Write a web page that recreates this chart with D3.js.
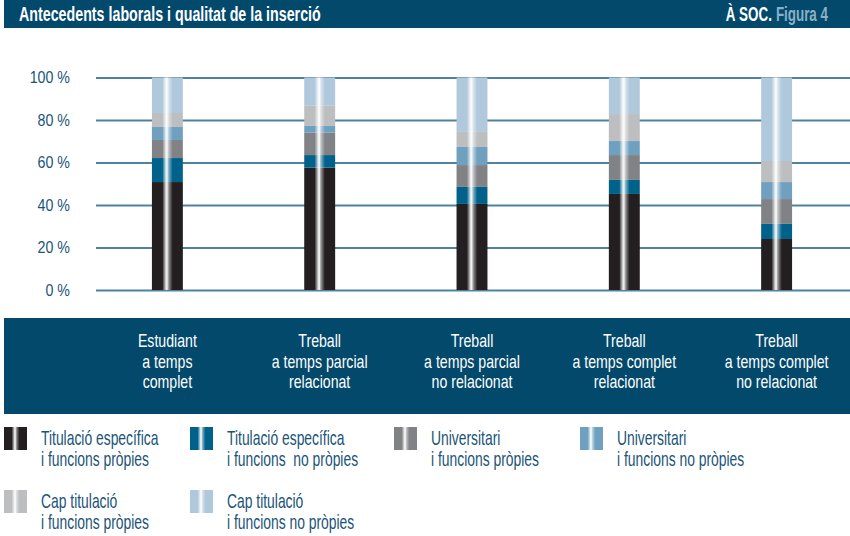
<!DOCTYPE html>
<html>
<head>
<meta charset="utf-8">
<script src="https://cdn.jsdelivr.net/npm/d3@7"></script>
<style>
body { margin: 0; background: #fff; }
svg text { font-family: "Liberation Sans", Arial, sans-serif; white-space: pre; }
</style>
</head>
<body>
<svg width="850" height="536"></svg>
<script>
var categories = [
  ["Estudiant", "a temps", "complet"],
  ["Treball", "a temps parcial", "relacionat"],
  ["Treball", "a temps parcial", "no relacionat"],
  ["Treball", "a temps complet", "relacionat"],
  ["Treball", "a temps complet", "no relacionat"]
];
var seriesNames = [
  ["Titulació específica", "i funcions pròpies"],
  ["Titulació específica", "i funcions  no pròpies"],
  ["Universitari", "i funcions pròpies"],
  ["Universitari", "i funcions no pròpies"],
  ["Cap titulació", "i funcions pròpies"],
  ["Cap titulació", "i funcions no pròpies"]
];
var colors = ["#231f20", "#00628b", "#808285", "#70a0c0", "#bcbec0", "#b0c8dc"];

var especificaPropies   = [50.8, 57.6, 40.5, 45.2, 24.0];
var especificaNoPropies = [11.3, 5.9, 8.0, 6.6, 7.1];
var univPropies         = [8.5, 10.5, 10.3, 11.7, 11.7];
var univNoPropies       = [6.1, 3.2, 8.5, 6.6, 8.0];
var capPropies          = [6.6, 9.5, 7.1, 12.7, 9.9];
var capNoPropies        = [16.7, 13.3, 25.6, 17.2, 39.3];
var yTicks = [0, 20, 40, 60, 80, 100];

var seriesValues = [especificaPropies, especificaNoPropies, univPropies, univNoPropies, capPropies, capNoPropies];
var keys = seriesNames.map(function(d, i) { return "s" + i; });
var rows = categories.map(function(c, j) {
  var r = { cat: j };
  seriesValues.forEach(function(s, i) { r["s" + i] = s[j]; });
  return r;
});

var svg = d3.select("svg");
var navy = "#02496c";
var textBlue = "#1b5478";

// squeeze text horizontally round its anchor x, the original uses a condensed face
function condense(sel, k) {
  sel.each(function() {
    var x = +this.getAttribute("x") || 0;
    var t = this.getAttribute("transform") || "";
    d3.select(this).attr("transform", t + " translate(" + x + ",0) scale(" + k + ",1) translate(" + (-x) + ",0)");
  });
}

// gloss gradient
var defs = svg.append("defs");
var grad = defs.append("linearGradient").attr("id", "gloss")
  .attr("x1", 0).attr("x2", 1).attr("y1", 0).attr("y2", 0);
[[0, 0], [0.34, 0], [0.36, 0.2], [0.40, 0.45], [0.45, 0.85], [0.49, 0.95],
 [0.53, 0.6], [0.58, 0.35], [0.63, 0.15], [0.67, 0], [1, 0]]
  .forEach(function(s) {
    grad.append("stop").attr("offset", s[0]).attr("stop-color", "#fff").attr("stop-opacity", s[1]);
  });

// header
svg.append("rect").attr("x", 4).attr("y", 0).attr("width", 846).attr("height", 28).attr("fill", navy);
svg.append("text").attr("x", 19).attr("y", 21).attr("fill", "#fff")
  .attr("font-size", "20px").attr("font-weight", "bold")
  .text("Antecedents laborals i qualitat de la inserció")
  .call(condense, 0.713);
var fig = svg.append("text").attr("x", 828).attr("y", 21).attr("text-anchor", "end")
  .attr("font-size", "20px").attr("font-weight", "bold").attr("fill", "#8ab0c6")
  .text("Figura 4");
var figW = fig.node().getComputedTextLength() * 0.67;
fig.call(condense, 0.67);
svg.append("text").attr("x", 828 - figW - 4).attr("y", 21).attr("text-anchor", "end")
  .attr("font-size", "20px").attr("font-weight", "bold").attr("fill", "#fff")
  .text("À SOC.")
  .call(condense, 0.67);

var xScale = d3.scaleBand().domain(d3.range(categories.length))
  .range([91, 853]).paddingInner(0.797).paddingOuter(0.4);
var yScale = d3.scaleLinear().domain([0, 100]).range([290, 77.5]);

// grid + y axis
var yAxis = svg.append("g").attr("transform", "translate(96,0)")
  .call(d3.axisLeft(yScale).tickValues(yTicks).tickSize(-754).tickPadding(26)
    .tickFormat(function(d) { return d + " %"; }));
yAxis.select(".domain").remove();
yAxis.selectAll(".tick line").attr("stroke", "#4f81a0").attr("stroke-width", 1.8);
yAxis.selectAll(".tick text").attr("fill", textBlue).attr("font-size", "16px")
  .style("font-family", "'Liberation Sans', Arial, sans-serif")
  .call(condense, 0.89);

// bars
var stacked = d3.stack().keys(keys)(rows);
var g = svg.append("g");
g.selectAll(".layer").data(stacked).enter().append("g")
  .attr("fill", function(d, i) { return colors[i]; })
  .selectAll("rect").data(function(d) { return d; }).enter().append("rect")
  .attr("x", function(d) { return xScale(d.data.cat); })
  .attr("y", function(d) { return yScale(d[1]); })
  .attr("width", xScale.bandwidth())
  .attr("height", function(d) { return yScale(d[0]) - yScale(d[1]); });
g.selectAll(".gloss").data(rows).enter().append("rect")
  .attr("x", function(d) { return xScale(d.cat); })
  .attr("y", yScale(100))
  .attr("width", xScale.bandwidth())
  .attr("height", yScale(0) - yScale(100))
  .attr("fill", "url(#gloss)");

// category band
svg.append("rect").attr("x", 4).attr("y", 318).attr("width", 846).attr("height", 96).attr("fill", navy);
var catLines = [];
categories.forEach(function(c, j) {
  c.forEach(function(t, i) { catLines.push({ t: t, j: j, i: i }); });
});
svg.selectAll(".cat").data(catLines).enter().append("text")
  .attr("text-anchor", "middle").attr("fill", "#fff").attr("font-size", "18px")
  .attr("x", function(d) { return xScale(d.j) + xScale.bandwidth() / 2; })
  .attr("y", function(d) { return 347 + d.i * 20.7; })
  .text(function(d) { return d.t; })
  .call(condense, 0.785);

// legend
var legX = [4, 190, 394, 580];
var legend = svg.selectAll(".leg").data(seriesNames).enter().append("g")
  .attr("transform", function(d, i) {
    return "translate(" + legX[i % 4] + "," + (i < 4 ? 427 : 490) + ")";
  });
legend.append("rect").attr("width", 23).attr("height", 23)
  .attr("fill", function(d, i) { return colors[i]; });
legend.append("rect").attr("width", 23).attr("height", 23).attr("fill", "url(#gloss)");
legend.selectAll(".lt").data(function(d) { return d; }).enter().append("text")
  .attr("fill", textBlue).attr("font-size", "20px")
  .attr("x", 37).attr("y", function(d, i) { return 18 + i * 21; })
  .text(function(d) { return d; })
  .call(condense, 0.694);
</script>
</body>
</html>
